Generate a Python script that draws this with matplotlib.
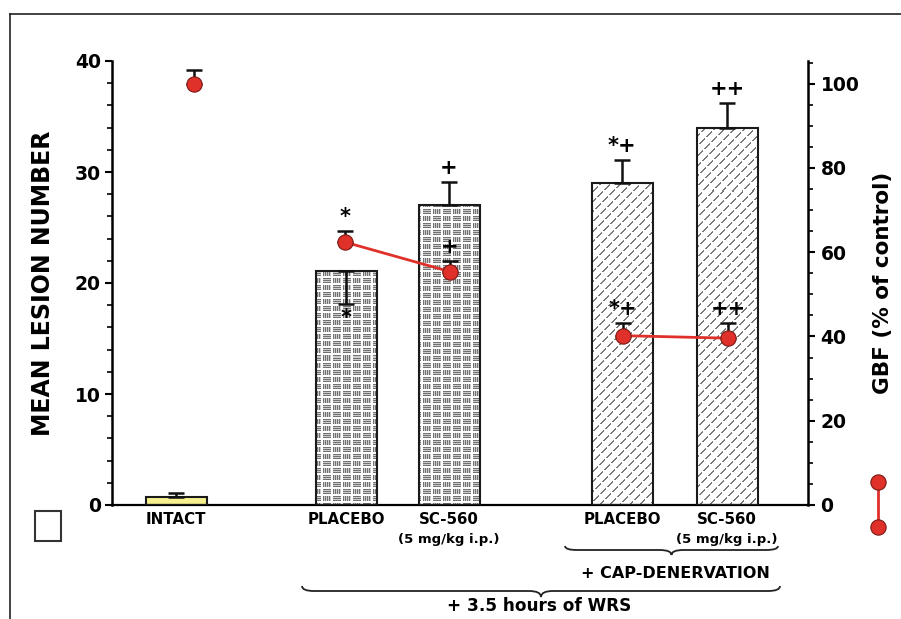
import numpy as np
import matplotlib
matplotlib.use("Agg")
import matplotlib.pyplot as plt
from matplotlib.lines import Line2D
from matplotlib.patches import Rectangle, PathPatch
from matplotlib.path import Path
from matplotlib.ticker import MultipleLocator
from matplotlib.transforms import blended_transform_factory

# lesion numbers (left axis)
groups = ["INTACT", "PLACEBO", "SC-560", "PLACEBO", "SC-560"]
doses = ["", "", "(5 mg/kg i.p.)", "", "(5 mg/kg i.p.)"]
lesions = [0.7, 21.1, 27.0, 29.0, 34.0]
lesion_err_low = [0.0, 3.0, 0.0, 0.0, 0.0]
lesion_err_high = [0.35, 0.0, 2.1, 2.1, 2.2]
lesion_marks = ["", "*", "+", "*+", "++"]

# gastric blood flow, % of control (right axis)
gbf = [100.0, 62.4, 55.4, 40.2, 39.6]
gbf_err = [3.2, 2.6, 2.6, 3.0, 3.6]
gbf_marks = ["", "*", "+", "*+", "++"]

bar_x = np.array([0.0, 1.70, 2.73, 4.46, 5.51])
dot_x = np.array([0.18, 1.69, 2.74, 4.47, 5.52])
bar_w = 0.61
XLIM = (-0.64, 6.32)

RED = "#e0302a"


def brick_texture(h, w):
    """Small striped blocks in a checker layout, like a brick fill."""
    img = np.ones((h, w, 3))
    bw, bh = 10, 7
    for r in range(0, h, bh):
        for c in range(0, w, bw):
            blk = img[r + 1:r + 6, c + 1:c + 9]
            blk[:] = 0.8
            if ((r // bh) + (c // bw)) % 2 == 0:
                blk[0::2, :] = 0.45
            else:
                blk[:, 0::2] = 0.45
    return img


def dash_diag_texture(h, w):
    """Broken gray diagonal lines."""
    rr, cc = np.mgrid[0:h, 0:w]
    on_line = (cc + rr) % 10 < 2
    in_dash = (cc - rr) % 14 < 11
    img = np.ones((h, w, 3))
    img[on_line & in_dash] = 0.48
    return img


def brace(fig, x0, x1, y_end, y_line, y_tip, trans):
    xm = (x0 + x1) / 2
    r = 0.12
    verts = [(x0, y_end), (x0, y_line), (x0 + r, y_line),
             (xm - r, y_line), (xm, y_line), (xm, y_tip),
             (xm, y_line), (xm + r, y_line), (x1 - r, y_line),
             (x1, y_line), (x1, y_end)]
    codes = [Path.MOVETO, Path.CURVE3, Path.CURVE3,
             Path.LINETO, Path.CURVE3, Path.CURVE3,
             Path.CURVE3, Path.CURVE3, Path.LINETO,
             Path.CURVE3, Path.CURVE3]
    fig.add_artist(PathPatch(Path(verts, codes), transform=trans,
                             fill=False, lw=1.3, edgecolor="#222222"))


fig = plt.figure(figsize=(9.01, 6.19), dpi=100)
ax = fig.add_axes([112 / 901, 1 - 505 / 619, 696 / 901, 444 / 619])
ax.set_xlim(*XLIM)
ax.set_ylim(0, 40)

# bars: plain, brick-filled (WRS) and diagonal-filled (WRS + denervation)
faces = ["#f6f08e", "white", "white", "white", "white"]
bars = ax.bar(bar_x, lesions, width=bar_w, color=faces, edgecolor="none",
              zorder=1)
brick = brick_texture(444, 696)
diag = dash_diag_texture(444, 696)
for i, tex in ((1, brick), (2, brick), (3, diag), (4, diag)):
    im = ax.imshow(tex, extent=(XLIM[0], XLIM[1], 0, 40), aspect="auto",
                   interpolation="nearest", zorder=2)
    im.set_clip_path(bars[i])
ax.bar(bar_x, lesions, width=bar_w, color="none", edgecolor="#1a1a1a",
       lw=1.5, zorder=3)
ax.errorbar(bar_x, lesions, yerr=[lesion_err_low, lesion_err_high],
            fmt="none", ecolor="#111111", elinewidth=1.8, capsize=6,
            capthick=1.8, zorder=4)
ax.set_xlim(*XLIM)
ax.set_ylim(0, 40)

for x, v, lo, hi, m in zip(bar_x, lesions, lesion_err_low,
                           lesion_err_high, lesion_marks):
    if not m:
        continue
    if lo > 0:
        ax.annotate(m, (x, v - lo), xytext=(0, -10), textcoords="offset points",
                    ha="center", va="center", fontsize=15, fontweight="bold",
                    zorder=5)
    else:
        ax.annotate(m, (x, v + hi), xytext=(0, 10), textcoords="offset points",
                    ha="center", va="center", fontsize=15, fontweight="bold",
                    zorder=5)

ax.set_xticks([])
for s in ("top", "right"):
    ax.spines[s].set_visible(False)
ax.spines["left"].set_linewidth(1.8)
ax.spines["bottom"].set_linewidth(1.6)
ax.yaxis.set_major_locator(MultipleLocator(10))
ax.yaxis.set_minor_locator(MultipleLocator(2))
ax.tick_params(axis="y", which="major", length=5, width=1.5, pad=3,
               labelsize=13.5)
ax.tick_params(axis="y", which="minor", length=3.5, width=1.2)
for lab in ax.get_yticklabels():
    lab.set_fontweight("bold")
ax.set_ylabel("MEAN LESION NUMBER", fontsize=17, fontweight="bold",
              labelpad=14)

# blood flow on the right axis
ax2 = ax.twinx()
ax2.set_ylim(0, 105.4)
ax2.set_xlim(*XLIM)
for s in ("top", "left", "bottom"):
    ax2.spines[s].set_visible(False)
ax2.spines["right"].set_linewidth(1.8)
ax2.yaxis.set_major_locator(MultipleLocator(20))
ax2.yaxis.set_minor_locator(MultipleLocator(5))
ax2.tick_params(axis="y", which="major", length=5, width=1.5, pad=4,
                labelsize=13.5)
ax2.tick_params(axis="y", which="minor", length=3.5, width=1.2)
for lab in ax2.get_yticklabels():
    lab.set_fontweight("bold")
ax2.set_ylabel("GBF (% of control)", fontsize=15.5, fontweight="bold",
               labelpad=10)

ax2.errorbar(dot_x, gbf, yerr=[np.zeros(len(gbf)), gbf_err], fmt="none",
             ecolor="#111111", elinewidth=1.8, capsize=6, capthick=1.8,
             zorder=4)
for idx in ([1, 2], [3, 4]):
    ax2.plot(dot_x[idx], np.array(gbf)[idx], color=RED, lw=2, zorder=5)
ax2.plot(dot_x, gbf, "o", color=RED, markersize=11, markeredgecolor="#7a1a14",
         markeredgewidth=0.8, zorder=6)
for x, v, e, m in zip(dot_x, gbf, gbf_err, gbf_marks):
    if m:
        ax2.annotate(m, (x, v + e), xytext=(0, 10), textcoords="offset points",
                     ha="center", va="center", fontsize=15, fontweight="bold",
                     zorder=7)

# category labels under the axis
tr = blended_transform_factory(ax.transData, fig.transFigure)
for x, g, d in zip(bar_x, groups, doses):
    ax.text(x, 1 - 520 / 619, g, transform=tr, ha="center", va="center",
            fontsize=10.8, fontweight="bold")
    if d:
        ax.text(x, 1 - 540 / 619, d, transform=tr, ha="center", va="center",
                fontsize=9.5, fontweight="bold")

brace(fig, 3.89, 6.02, 1 - 546 / 619, 1 - 550 / 619, 1 - 555 / 619, tr)
ax.text(4.99, 1 - 573 / 619, "+ CAP-DENERVATION", transform=tr,
        ha="center", va="center", fontsize=11.5, fontweight="bold")
brace(fig, 1.26, 6.04, 1 - 586 / 619, 1 - 591 / 619, 1 - 597 / 619, tr)
ax.text(3.63, 1 - 606 / 619, "+ 3.5 hours of WRS", transform=tr,
        ha="center", va="center", fontsize=12.2, fontweight="bold")

# legend keys and frame
fig.add_artist(Rectangle((35 / 901, 1 - 541 / 619), 26 / 901, 30 / 619,
                         transform=fig.transFigure, fill=False,
                         edgecolor="#333333", lw=1.5))
fig.add_artist(Line2D([878 / 901, 878 / 901], [1 - 482 / 619, 1 - 527 / 619],
                      transform=fig.transFigure, color=RED, lw=2,
                      marker="o", markersize=11, markerfacecolor=RED,
                      markeredgecolor="#7a1a14", markeredgewidth=0.8))
fig.add_artist(Line2D([10 / 901, 1.0], [1 - 14 / 619, 1 - 14 / 619],
                      transform=fig.transFigure, color="#222222", lw=1.2))
fig.add_artist(Line2D([10 / 901, 10 / 901], [0, 1 - 14 / 619],
                      transform=fig.transFigure, color="#222222", lw=1.2))

fig.savefig("out.png", dpi=100)
